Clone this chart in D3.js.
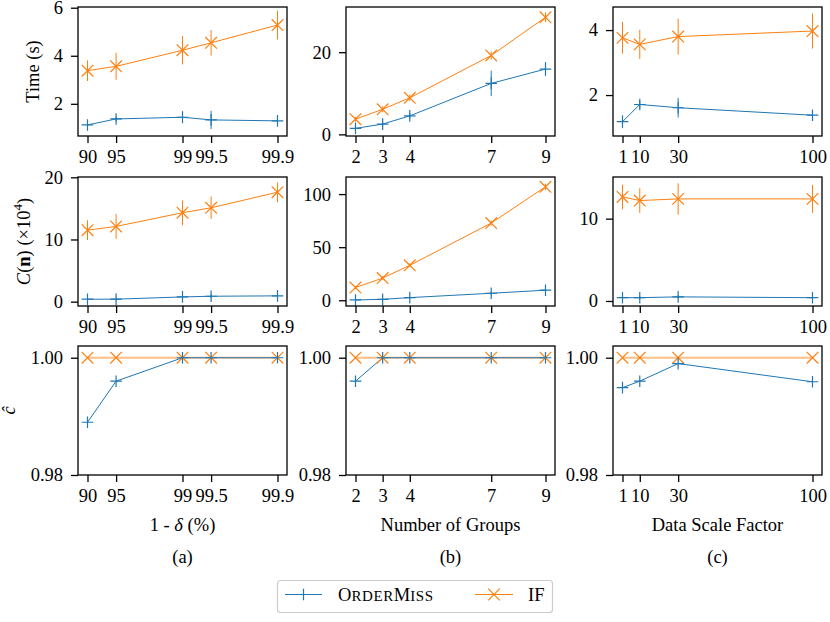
<!DOCTYPE html>
<html><head><meta charset="utf-8">
<script src="https://cdn.jsdelivr.net/npm/d3@7"></script>
<style>
body{margin:0;background:#fff}
svg{display:block}
</style>
</head><body><svg id="c" width="830" height="622"></svg>
<script>
// ---------- data ----------
const deltaLevels = [90, 95, 99, 99.5, 99.9];
const groupCounts = [2, 3, 4, 7, 9];
const scaleFactors = [1, 10, 30, 100];

// Row 1: Time (s)
const timeDeltaOM = [1.12, 1.37, 1.44, 1.33, 1.29];
const timeDeltaOMErr = [0.08, 0.1, 0.25, 0.38, 0.15];
const timeDeltaIF = [3.38, 3.56, 4.23, 4.54, 5.28];
const timeDeltaIFErr = [0.43, 0.56, 0.59, 0.53, 0.6];
const timeGroupOM = [1.46, 2.5, 4.5, 12.4, 15.9];
const timeGroupOMErr = [0.4, 0.5, 0.7, 3.1, 1.7];
const timeGroupIF = [3.7, 6.1, 8.9, 19.2, 28.5];
const timeGroupIFErr = [0.6, 0.7, 0.8, 1.0, 1.2];
const timeScaleOM = [1.18, 1.71, 1.61, 1.38];
const timeScaleOMErr = [0.2, 0.12, 0.3, 0.1];
const timeScaleIF = [3.76, 3.56, 3.80, 3.97];
const timeScaleIFErr = [0.49, 0.45, 0.55, 0.54];

// Row 2: C(n) (x10^4)
const costDeltaOM = [0.39, 0.4, 0.76, 0.87, 0.93];
const costDeltaOMErr = [0.2, 0.2, 0.3, 0.3, 0.3];
const costDeltaIF = [11.5, 12.1, 14.3, 15.1, 17.6];
const costDeltaIFErr = [1.6, 2.0, 2.0, 1.8, 1.6];
const costGroupOM = [0.3, 0.9, 2.5, 6.6, 9.5];
const costGroupOMErr = [0.3, 0.5, 0.8, 1.5, 1.5];
const costGroupIF = [12.0, 20.9, 32.9, 72.7, 106.9];
const costGroupIFErr = [1.5, 2.0, 2.0, 2.5, 3.0];
const costScaleOM = [0.4, 0.4, 0.5, 0.4];
const costScaleOMErr = [0.2, 0.2, 0.2, 0.2];
const costScaleIF = [12.64, 12.2, 12.4, 12.4];
const costScaleIFErr = [1.5, 1.5, 1.9, 1.7];

// Row 3: c-hat
const accDeltaOM = [0.989, 0.996, 1.0, 1.0, 1.0];
const accDeltaIF = [1.0, 1.0, 1.0, 1.0, 1.0];
const accGroupOM = [0.996, 1.0, 1.0, 1.0, 1.0];
const accGroupIF = [1.0, 1.0, 1.0, 1.0, 1.0];
const accScaleOM = [0.9949, 0.996, 0.999, 0.9959];
const accScaleIF = [1.0, 1.0, 1.0, 1.0];

// tick labels
const yTicksTime = [[2, 4, 6], [0, 20], [2, 4]];
const yTicksCost = [[0, 10, 20], [0, 50, 100], [0, 10]];
const yTicksAcc = [0.98, 1.00];

const xLabels = ["1 - δ (%)", "Number of Groups", "Data Scale Factor"];
const subLabels = ["(a)", "(b)", "(c)"];
const seriesNames = ["OrderMiss", "IF"];

// ---------- layout ----------
const BLUE = "#1f77b4", ORANGE = "#ff7f0e";
const FONT = '"Liberation Serif", "Times New Roman", serif';
const FS = 18.5;
const colX = [78, 346, 613], W = 209;
const rowY = [7, 177, 346], H = 129;
const yLabelX = [38.5, 29.5, 15];
const svg = d3.select("#c").style("font-family", FONT);

function txt(sel) { return sel.style("font-family", FONT).style("font-size", FS + "px").attr("fill", "#000"); }

function makeX(col) {
  const x0 = colX[col], x1 = x0 + W;
  if (col === 0) {
    const s = d3.scaleLog().domain([Math.pow(10, 1.1), Math.pow(10, -1.1)]).range([x0, x1]);
    return { f: v => s(100 - v), scale: s, ticks: deltaLevels.map(v => 100 - v), fmt: d => String(+(100 - d).toFixed(1)) };
  }
  if (col === 1) {
    const s = d3.scaleLinear().domain([1.65, 9.35]).range([x0, x1]);
    return { f: v => s(v), scale: s, ticks: groupCounts, fmt: d => String(d) };
  }
  const s = d3.scaleLinear().domain([-3.95, 104.95]).range([x0, x1]);
  return { f: v => s(v), scale: s, ticks: scaleFactors, fmt: d => String(d) };
}
const xVals = [deltaLevels, groupCounts, scaleFactors];

const panels = [
  { r: 0, c: 0, dom: [0.66, 6.03], ticks: yTicksTime[0], om: timeDeltaOM, omE: timeDeltaOMErr, iff: timeDeltaIF, ifE: timeDeltaIFErr },
  { r: 0, c: 1, dom: [-0.4, 31.0], ticks: yTicksTime[1], om: timeGroupOM, omE: timeGroupOMErr, iff: timeGroupIF, ifE: timeGroupIFErr },
  { r: 0, c: 2, dom: [0.74, 4.71], ticks: yTicksTime[2], om: timeScaleOM, omE: timeScaleOMErr, iff: timeScaleIF, ifE: timeScaleIFErr },
  { r: 1, c: 0, dom: [-0.7, 20.05], ticks: yTicksCost[0], om: costDeltaOM, omE: costDeltaOMErr, iff: costDeltaIF, ifE: costDeltaIFErr },
  { r: 1, c: 1, dom: [-5.4, 116.1], ticks: yTicksCost[1], om: costGroupOM, omE: costGroupOMErr, iff: costGroupIF, ifE: costGroupIFErr },
  { r: 1, c: 2, dom: [-0.61, 15.06], ticks: yTicksCost[2], om: costScaleOM, omE: costScaleOMErr, iff: costScaleIF, ifE: costScaleIFErr },
  { r: 2, c: 0, dom: [0.98, 1.002], ticks: yTicksAcc, fmt: d3.format(".2f"), om: accDeltaOM, iff: accDeltaIF },
  { r: 2, c: 1, dom: [0.98, 1.002], ticks: yTicksAcc, fmt: d3.format(".2f"), om: accGroupOM, iff: accGroupIF },
  { r: 2, c: 2, dom: [0.98, 1.002], ticks: yTicksAcc, fmt: d3.format(".2f"), om: accScaleOM, iff: accScaleIF },
];

function plusPath(x, y, s) { return `M${x - s},${y}H${x + s}M${x},${y - s}V${y + s}`; }
function crossPath(x, y, s) { return `M${x - s},${y - s}L${x + s},${y + s}M${x - s},${y + s}L${x + s},${y - s}`; }

panels.forEach(p => {
  const X = makeX(p.c);
  const xs = xVals[p.c];
  const y0 = rowY[p.r], y1 = y0 + H;
  const ys = d3.scaleLinear().domain(p.dom).range([y1, y0]);
  const g = svg.append("g");

  const xa = g.append("g").attr("transform", `translate(0,${y1})`)
    .call(d3.axisBottom(X.scale).tickValues(X.ticks).tickFormat(X.fmt).tickSize(7).tickPadding(6.5).tickSizeOuter(0));
  const ya = g.append("g").attr("transform", `translate(${colX[p.c]},0)`)
    .call(d3.axisLeft(ys).tickValues(p.ticks).tickFormat(p.fmt || (d => String(d))).tickSize(7).tickPadding(8).tickSizeOuter(0));
  [xa, ya].forEach(a => {
    a.attr("font-family", null).attr("font-size", null);
    a.select(".domain").remove();
    a.selectAll("line").attr("stroke", "#000").attr("stroke-width", 1.3);
    txt(a.selectAll("text"));
  });

  const isAcc = p.r === 2;
  const line = d3.line().x((d, i) => X.f(xs[i])).y(d => ys(d));

  g.append("path").datum(p.iff).attr("d", line).attr("fill", "none")
    .attr("stroke", ORANGE).attr("stroke-width", isAcc ? 2 : 1).attr("stroke-opacity", isAcc ? 0.5 : 1);
  if (p.ifE) {
    g.selectAll(null).data(p.iff).enter().append("line")
      .attr("x1", (d, i) => X.f(xs[i])).attr("x2", (d, i) => X.f(xs[i]))
      .attr("y1", (d, i) => ys(d - p.ifE[i])).attr("y2", (d, i) => ys(d + p.ifE[i]))
      .attr("stroke", ORANGE).attr("stroke-width", 1);
  }
  g.append("path").datum(p.om).attr("d", line).attr("fill", "none")
    .attr("stroke", BLUE).attr("stroke-width", 1);
  if (p.omE) {
    g.selectAll(null).data(p.om).enter().append("line")
      .attr("x1", (d, i) => X.f(xs[i])).attr("x2", (d, i) => X.f(xs[i]))
      .attr("y1", (d, i) => ys(d - p.omE[i])).attr("y2", (d, i) => ys(d + p.omE[i]))
      .attr("stroke", BLUE).attr("stroke-width", 1);
  }
  g.selectAll(null).data(p.iff).enter().append("path")
    .attr("d", (d, i) => crossPath(X.f(xs[i]), ys(d), 5.8))
    .attr("stroke", ORANGE).attr("stroke-width", 1.2).attr("fill", "none");
  g.selectAll(null).data(p.om).enter().append("path")
    .attr("d", (d, i) => plusPath(X.f(xs[i]), ys(d), 5.8))
    .attr("stroke", BLUE).attr("stroke-width", 1.2).attr("fill", "none");

  g.append("rect").attr("x", colX[p.c]).attr("y", y0).attr("width", W).attr("height", H)
    .attr("fill", "none").attr("stroke", "#000").attr("stroke-width", 1.3);
});

// y labels
function yLabel(row) {
  const cy = rowY[row] + H / 2;
  return txt(svg.append("text")).attr("transform", `translate(${yLabelX[row]},${cy}) rotate(-90)`)
    .attr("text-anchor", "middle");
}
yLabel(0).text("Time (s)");
const cl = yLabel(1);
cl.append("tspan").style("font-style", "italic").text("C");
cl.append("tspan").text("(");
cl.append("tspan").style("font-weight", "bold").text("n");
cl.append("tspan").text(") (×10");
cl.append("tspan").style("font-size", "13px").attr("dy", -7.5).text("4");
cl.append("tspan").attr("dy", 7.5).text(")");
yLabel(2).style("font-style", "italic").text("ĉ");

// x labels & subfigure labels
xLabels.forEach((t, c) => {
  const cx = colX[c] + W / 2;
  const tx = txt(svg.append("text")).attr("x", cx).attr("y", 530.5).attr("text-anchor", "middle");
  if (c === 0) {
    tx.append("tspan").text("1 - ");
    tx.append("tspan").style("font-style", "italic").text("δ");
    tx.append("tspan").text(" (%)");
  } else tx.text(t);
  txt(svg.append("text")).attr("x", cx).attr("y", 563).attr("text-anchor", "middle").text(subLabels[c]);
});

// legend
const lg = svg.append("g");
lg.append("rect").attr("x", 277.5).attr("y", 580.5).attr("width", 275).attr("height", 32).attr("rx", 3)
  .attr("fill", "#fff").attr("stroke", "#cccccc").attr("stroke-width", 1.2);
const ly = 594.5;
const legendItems = [
  { name: seriesNames[0], color: BLUE, x1: 285, x2: 322, tx: 338, mk: plusPath, caps: true },
  { name: seriesNames[1], color: ORANGE, x1: 475, x2: 513, tx: 528, mk: crossPath, caps: false },
];
legendItems.forEach(it => {
  lg.append("line").attr("x1", it.x1).attr("x2", it.x2).attr("y1", ly).attr("y2", ly).attr("stroke", it.color).attr("stroke-width", 1);
  lg.append("path").attr("d", it.mk((it.x1 + it.x2) / 2, ly, 5.8)).attr("stroke", it.color).attr("stroke-width", 1.2).attr("fill", "none");
  const t = txt(lg.append("text")).attr("x", it.tx).attr("y", 601);
  if (it.caps) {
    // render small caps: uppercase letters full size, lowercase as smaller capitals
    const parts = it.name.match(/[A-Z][a-z]*/g);
    parts.forEach(pt => {
      t.append("tspan").text(pt[0]);
      t.append("tspan").style("font-size", "15px").style("letter-spacing", "0.6px").text(pt.slice(1).toUpperCase());
    });
  } else t.text(it.name);
});
</script>
</body></html>
